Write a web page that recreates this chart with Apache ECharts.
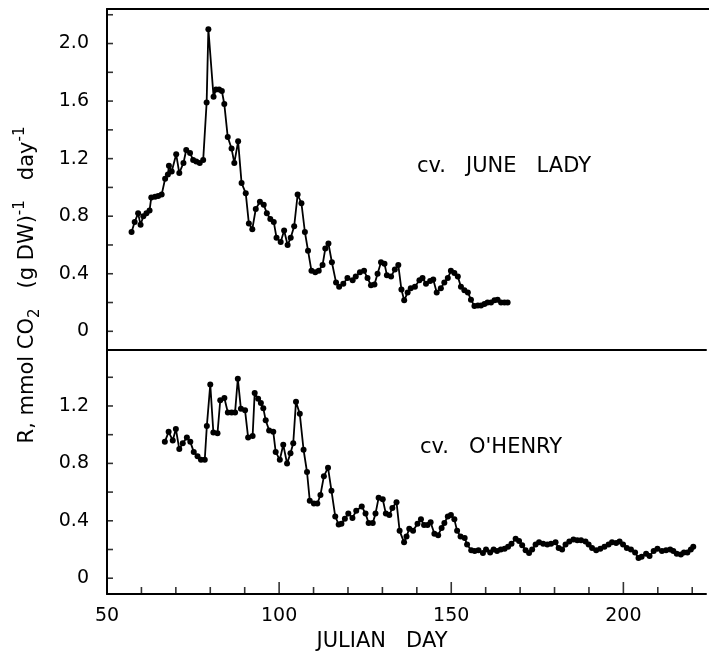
<!DOCTYPE html>
<html>
<head>
<meta charset="utf-8">
<script src="https://cdn.jsdelivr.net/npm/echarts@6/dist/echarts.min.js"></script>
<style>
  html, body { margin: 0; padding: 0; background: #fff; }
  #chart { width: 709px; height: 661px; }
</style>
</head>
<body>
<div id="chart"></div>
<script>
// cv. June Lady (upper panel)
const juneDays = [57.1, 58.0, 59.0, 59.7, 60.5, 61.4, 62.3, 62.8, 63.9, 64.8, 65.8, 66.8, 67.6, 67.9, 68.7, 70.0, 70.9, 72.1, 72.9, 74.0,
  74.9, 75.8, 76.8, 77.8, 78.8, 79.3, 80.8, 81.5, 82.4, 83.2, 83.9, 84.9, 86.0, 86.8, 87.9, 88.9, 90.1, 91.0, 92.0, 93.0,
  94.2, 95.3, 96.2, 97.2, 98.2, 99.0, 100.2, 101.2, 102.2, 103.1, 104.1, 105.1, 106.2, 107.2, 108.1, 109.1, 110.2, 111.2, 112.3, 113.1,
  114.0, 115.0, 116.2, 117.1, 118.3, 119.5, 121.0, 121.9, 123.1, 124.3, 125.3, 126.3, 127.3, 128.2, 129.2, 130.2, 130.9, 132.1, 133.2, 134.2,
  135.1, 135.9, 136.9, 137.8, 139.0, 140.3, 141.2, 142.2, 143.4, 144.3, 145.3, 146.5, 147.5, 148.5, 149.4, 150.4, 151.4, 152.3, 153.3, 154.3,
  155.2, 156.2, 157.2, 158.1, 159.1, 160.0, 161.0, 162.0, 162.9, 163.9, 164.9, 165.8]
const juneRates = [0.69, 0.76, 0.82, 0.74, 0.80, 0.82, 0.84, 0.93, 0.935, 0.94, 0.95, 1.06, 1.09, 1.15, 1.11, 1.23, 1.10, 1.17, 1.26, 1.24,
  1.19, 1.18, 1.17, 1.19, 1.59, 2.10, 1.63, 1.68, 1.68, 1.67, 1.58, 1.35, 1.27, 1.17, 1.32, 1.03, 0.96, 0.75, 0.71, 0.85,
  0.90, 0.88, 0.82, 0.78, 0.76, 0.65, 0.62, 0.70, 0.60, 0.65, 0.73, 0.95, 0.89, 0.69, 0.56, 0.42, 0.41, 0.42, 0.46, 0.575,
  0.61, 0.48, 0.34, 0.31, 0.33, 0.37, 0.355, 0.38, 0.41, 0.42, 0.37, 0.32, 0.325, 0.40, 0.48, 0.47, 0.39, 0.38, 0.43, 0.46,
  0.29, 0.215, 0.27, 0.30, 0.31, 0.355, 0.37, 0.33, 0.35, 0.36, 0.27, 0.30, 0.34, 0.37, 0.42, 0.405, 0.38, 0.31, 0.285, 0.27,
  0.22, 0.175, 0.18, 0.18, 0.19, 0.20, 0.20, 0.215, 0.22, 0.20, 0.20, 0.20]

// cv. O'Henry (lower panel)
const henryDays = [66.8, 67.9, 69.1, 70.0, 71.0, 72.0, 73.2, 74.2, 75.2, 76.3, 77.3, 78.4, 79.0, 80.0, 80.9, 82.1, 82.9, 84.1, 85.1, 86.2,
  87.2, 88.0, 88.9, 90.1, 91.0, 92.3, 92.9, 93.9, 94.7, 95.4, 96.1, 97.1, 98.3, 99.0, 100.2, 101.2, 102.3, 103.3, 104.1, 104.9,
  106.0, 107.1, 108.1, 108.9, 110.1, 111.1, 112.0, 113.0, 114.2, 115.2, 116.3, 117.3, 118.1, 119.1, 120.1, 121.3, 122.4, 124.0, 125.1, 126.0,
  127.2, 128.0, 128.9, 130.1, 131.0, 132.0, 132.9, 134.1, 135.0, 136.3, 137.0, 137.8, 138.9, 140.2, 141.2, 142.1, 143.1, 144.0, 145.1, 146.2,
  147.2, 148.0, 149.0, 149.9, 150.9, 151.7, 152.7, 153.9, 154.6, 155.8, 156.8, 157.9, 159.2, 160.1, 161.3, 162.3, 163.3, 164.4, 165.5, 166.5,
  167.5, 168.7, 169.7, 170.6, 171.6, 172.6, 173.5, 174.5, 175.5, 176.7, 177.9, 179.0, 180.3, 181.2, 182.2, 183.2, 184.3, 185.5, 186.6, 187.7,
  189.0, 189.9, 190.9, 192.1, 193.3, 194.5, 195.7, 196.7, 197.9, 198.9, 199.9, 201.0, 202.2, 203.4, 204.4, 205.3, 206.6, 207.6, 208.8, 209.9,
  211.2, 212.4, 213.6, 214.5, 215.5, 216.7, 217.6, 218.6, 219.6, 220.3]
const henryRates = [0.95, 1.02, 0.96, 1.04, 0.90, 0.94, 0.98, 0.95, 0.88, 0.85, 0.825, 0.825, 1.06, 1.35, 1.015, 1.01, 1.24, 1.255, 1.155, 1.155,
  1.155, 1.39, 1.18, 1.17, 0.98, 0.99, 1.29, 1.25, 1.22, 1.185, 1.10, 1.03, 1.02, 0.88, 0.825, 0.93, 0.80, 0.87, 0.94, 1.23,
  1.145, 0.895, 0.74, 0.54, 0.52, 0.52, 0.58, 0.71, 0.77, 0.61, 0.43, 0.375, 0.38, 0.415, 0.45, 0.42, 0.47, 0.50, 0.45, 0.385,
  0.385, 0.45, 0.56, 0.55, 0.45, 0.44, 0.49, 0.53, 0.33, 0.25, 0.29, 0.345, 0.33, 0.38, 0.41, 0.37, 0.37, 0.39, 0.31, 0.30,
  0.35, 0.385, 0.43, 0.44, 0.41, 0.33, 0.29, 0.28, 0.235, 0.195, 0.19, 0.195, 0.175, 0.20, 0.18, 0.20, 0.19, 0.20, 0.205, 0.22,
  0.24, 0.275, 0.26, 0.23, 0.195, 0.175, 0.20, 0.235, 0.25, 0.24, 0.235, 0.24, 0.25, 0.21, 0.20, 0.235, 0.255, 0.27, 0.265, 0.265,
  0.255, 0.235, 0.21, 0.195, 0.205, 0.22, 0.235, 0.25, 0.245, 0.255, 0.235, 0.21, 0.20, 0.18, 0.14, 0.15, 0.17, 0.155, 0.19, 0.205,
  0.19, 0.195, 0.20, 0.19, 0.17, 0.165, 0.18, 0.18, 0.20, 0.22]

// tick positions
const dayTicks = [50, 100, 150, 200]
const dayMinorTicks = [60, 70, 80, 90, 110, 120, 130, 140, 160, 170, 180, 190, 210, 220]
const juneRateTicks = [0, 0.2, 0.4, 0.6, 0.8, 1.0, 1.2, 1.4, 1.6, 1.8, 2.0, 2.2]
const henryRateTicks = [0, 0.2, 0.4, 0.6, 0.8, 1.0, 1.2, 1.4]

const juneRange = [-0.13, 2.24]
const henryRange = [-0.11, 1.59]

const font = 'DejaVu Sans'
const black = '#000'

const pairs = (xs, ys) => xs.map((x, i) => [x, ys[i]])

// labels only every 0.4
const rateLabel = v => {
  if (Math.abs(v) < 1e-6) return '0'
  const k = v / 0.4
  return Math.abs(k - Math.round(k)) < 1e-6 ? v.toFixed(1) : ''
}

const lineAxis = (gridIndex, position) => ({
  type: 'value',
  gridIndex,
  position,
  min: 50,
  max: 224,
  axisLine: { show: true, onZero: false, lineStyle: { color: black, width: 2 } },
  axisTick: { show: false },
  axisLabel: { show: false },
  splitLine: { show: false }
})

const yAxis = (gridIndex, [min, max]) => ({
  type: 'value',
  gridIndex,
  min,
  max,
  minInterval: 0.2,
  maxInterval: 0.2,
  splitNumber: 10,
  axisLine: { show: true, onZero: false, lineStyle: { color: black, width: 2 } },
  axisTick: { show: false },
  axisLabel: {
    show: true,
    margin: 18,
    color: black,
    fontFamily: font,
    fontSize: 19,
    showMinLabel: true,
    showMaxLabel: true,
    formatter: rateLabel
  },
  splitLine: { show: false }
})

const seriesStyle = {
  type: 'line',
  symbol: 'circle',
  symbolSize: 6,
  showSymbol: true,
  itemStyle: { color: black },
  lineStyle: { color: black, width: 1.8 },
  animation: false
}

// inward tick marks, placed on the axes through the same scales
const tickMarks = (xAxisIndex, yAxisIndex, data, size, offset) => ({
  type: 'scatter',
  xAxisIndex,
  yAxisIndex,
  data,
  symbol: 'rect',
  symbolSize: size,
  symbolOffset: offset,
  clip: false,
  silent: true,
  z: 3,
  itemStyle: { color: black },
  animation: false
})

const chart = echarts.init(document.getElementById('chart'), null, { renderer: 'canvas' })

chart.setOption({
  animation: false,
  backgroundColor: '#fff',
  grid: [
    { left: 107, right: 0, top: 9, height: 341 },
    { left: 107, right: 0, top: 350, height: 244 }
  ],
  xAxis: [
    { ...lineAxis(0, 'bottom'), axisLine: { show: false } },
    lineAxis(0, 'top'),
    lineAxis(1, 'top'),
    lineAxis(1, 'bottom'),
    {
      ...lineAxis(1, 'bottom'),
      interval: 50,
      axisLine: { show: false },
      axisLabel: {
        show: true,
        margin: 13,
        color: black,
        fontFamily: font,
        fontSize: 19,
        formatter: v => (dayTicks.includes(v) ? String(v) : '')
      }
    }
  ],
  yAxis: [yAxis(0, juneRange), yAxis(1, henryRange)],
  series: [
    { ...seriesStyle, name: 'JUNE LADY', xAxisIndex: 0, yAxisIndex: 0, data: pairs(juneDays, juneRates) },
    { ...seriesStyle, name: "O'HENRY", xAxisIndex: 3, yAxisIndex: 1, data: pairs(henryDays, henryRates) },
    tickMarks(3, 1, dayMinorTicks.map(d => [d, henryRange[0]]), [1.6, 7], [0, -3.5]),
    tickMarks(3, 1, dayTicks.map(d => [d, henryRange[0]]), [1.6, 12], [0, -6]),
    tickMarks(0, 0, juneRateTicks.map(v => [50, v]), [6, 1.6], [3, 0]),
    tickMarks(3, 1, henryRateTicks.map(v => [50, v]), [6, 1.6], [3, 0])
  ],
  graphic: [
    {
      type: 'text',
      x: 28,
      y: 285,
      rotation: Math.PI / 2,
      style: {
        text: '{n|R, mmol CO}{sub|2}{n|   (g DW)}{sup|-1}{n|   day}{sup|-1}',
        align: 'center',
        verticalAlign: 'middle',
        fill: black,
        rich: {
          n: { fontFamily: font, fontSize: 21, lineHeight: 30, verticalAlign: 'middle', fill: black },
          sub: { fontFamily: font, fontSize: 15, lineHeight: 15, verticalAlign: 'bottom', fill: black },
          sup: { fontFamily: font, fontSize: 15, lineHeight: 15, verticalAlign: 'top', fill: black }
        }
      }
    },
    {
      type: 'text',
      x: 382,
      y: 642,
      style: { text: 'JULIAN   DAY', fontFamily: font, fontSize: 21, fill: black, align: 'center', verticalAlign: 'middle' }
    },
    {
      type: 'text',
      x: 417,
      y: 167,
      style: { text: 'cv.   JUNE   LADY', fontFamily: font, fontSize: 21, fill: black, align: 'left', verticalAlign: 'middle' }
    },
    {
      type: 'text',
      x: 420,
      y: 448,
      style: { text: "cv.   O'HENRY", fontFamily: font, fontSize: 21, fill: black, align: 'left', verticalAlign: 'middle' }
    }
  ]
})
</script>
</body>
</html>
